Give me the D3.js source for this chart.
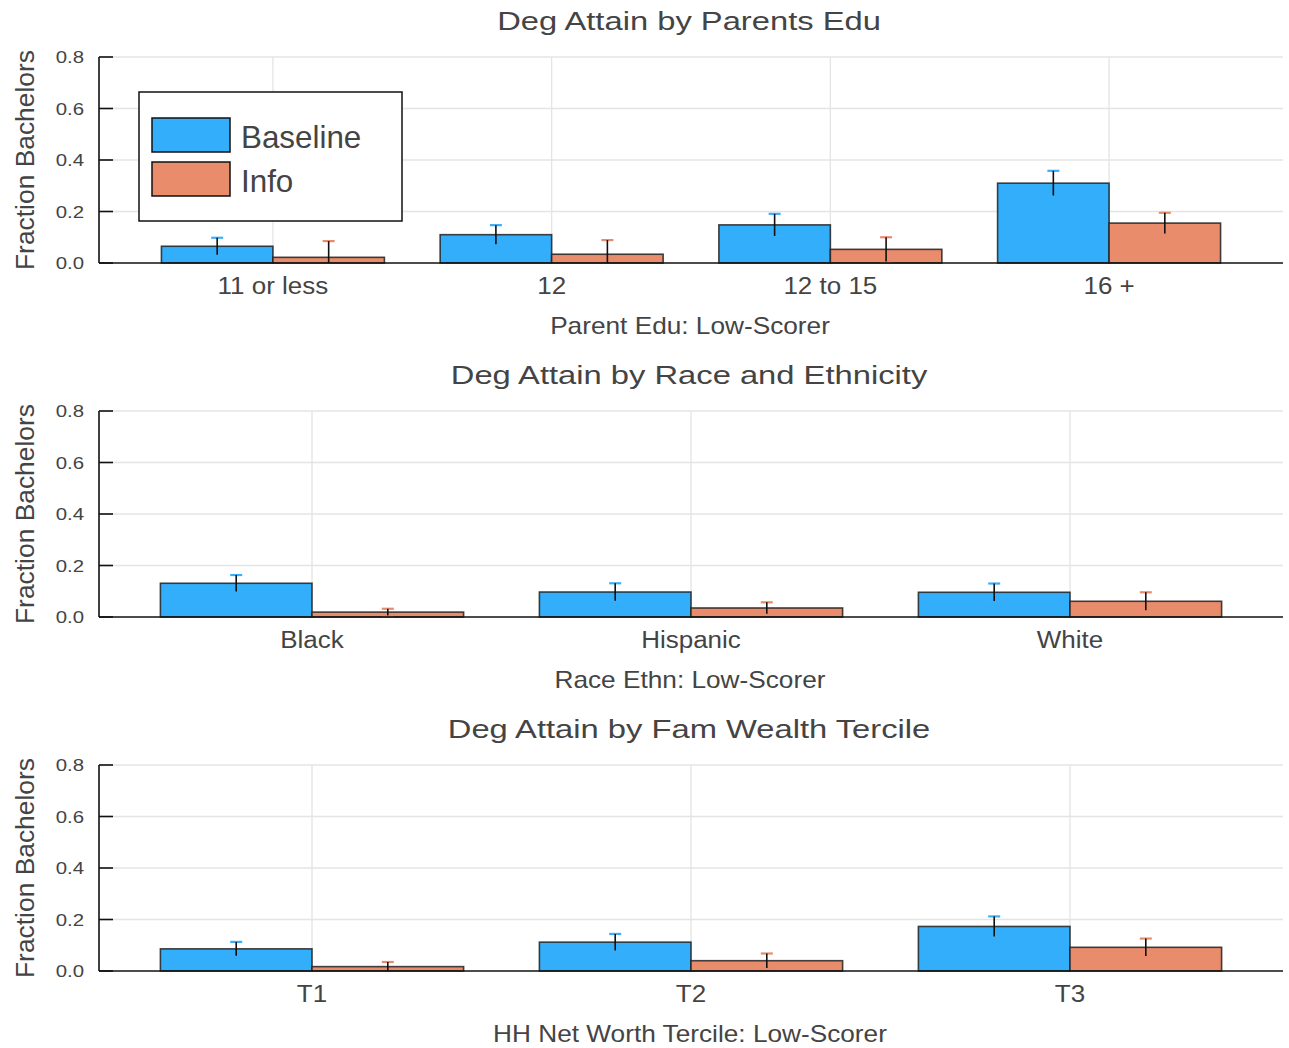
<!DOCTYPE html>
<html>
<head>
<meta charset="utf-8">
<script src="https://cdn.jsdelivr.net/npm/d3@7"></script>
<style>
  html, body { margin: 0; padding: 0; background: #fff; }
  text { font-family: "Liberation Sans", Arial, sans-serif; fill: #444; }
</style>
</head>
<body>
<svg id="chart" width="1289" height="1048"></svg>
<script>
// ---- data ----
const seriesNames = ["Baseline", "Info"];

const parentCats = ["11 or less", "12", "12 to 15", "16 +"];
const parentBaseline = [0.065, 0.110, 0.148, 0.310];
const parentBaselineErr = [0.033, 0.037, 0.043, 0.048];
const parentInfo = [0.022, 0.034, 0.053, 0.155];
const parentInfoErr = [0.063, 0.055, 0.047, 0.040];

const raceCats = ["Black", "Hispanic", "White"];
const raceBaseline = [0.131, 0.097, 0.096];
const raceBaselineErr = [0.032, 0.034, 0.034];
const raceInfo = [0.019, 0.035, 0.061];
const raceInfoErr = [0.013, 0.022, 0.035];

const wealthCats = ["T1", "T2", "T3"];
const wealthBaseline = [0.086, 0.112, 0.173];
const wealthBaselineErr = [0.027, 0.032, 0.039];
const wealthInfo = [0.017, 0.040, 0.092];
const wealthInfoErr = [0.018, 0.028, 0.034];

const yTicks = [0.0, 0.2, 0.4, 0.6, 0.8];

const panels = [
  { title: "Deg Attain by Parents Edu", xlabel: "Parent Edu: Low-Scorer", cats: parentCats,
    vals: [parentBaseline, parentInfo], errs: [parentBaselineErr, parentInfoErr], legend: true },
  { title: "Deg Attain by Race and Ethnicity", xlabel: "Race Ethn: Low-Scorer", cats: raceCats,
    vals: [raceBaseline, raceInfo], errs: [raceBaselineErr, raceInfoErr], legend: false },
  { title: "Deg Attain by Fam Wealth Tercile", xlabel: "HH Net Worth Tercile: Low-Scorer", cats: wealthCats,
    vals: [wealthBaseline, wealthInfo], errs: [wealthBaselineErr, wealthInfoErr], legend: false }
];

// ---- style ----
const fillColors = ["#33aefb", "#e98c6c"];
const capColors = ["#3aaefa", "#ea8a6c"];

const svg = d3.select("#chart");
const left = 99, right = 1283;
const panelTop0 = 57, plotH = 206, panelStep = 354;

function label(g, x, y, str, size, sx, anchor, fill) {
  return g.append("text")
    .attr("transform", `translate(${x},${y}) scale(${sx},1)`)
    .attr("text-anchor", anchor).attr("font-size", size)
    .attr("fill", fill || "#444")
    .text(str);
}

panels.forEach((p, pi) => {
  const top = panelTop0 + pi * panelStep;
  const bottom = top + plotH;
  const g = svg.append("g");
  const n = p.cats.length;

  // continuous x scale like Julia Plots (categories at 1..n)
  const pad = n === 4 ? 0.624 : 0.562;
  const x = d3.scaleLinear().domain([1 - pad, n + pad]).range([left, right]);
  const y = d3.scaleLinear().domain([0, 0.8]).range([bottom, top]);
  const barW = 0.4;

  // grid
  g.selectAll(".hg").data(yTicks.slice(1)).join("line")
    .attr("x1", left).attr("x2", right)
    .attr("y1", d => y(d)).attr("y2", d => y(d))
    .attr("stroke", "#e4e4e4").attr("stroke-width", 1.3);
  g.selectAll(".vg").data(p.cats).join("line")
    .attr("x1", (d, i) => x(i + 1)).attr("x2", (d, i) => x(i + 1))
    .attr("y1", top).attr("y2", bottom)
    .attr("stroke", "#e4e4e4").attr("stroke-width", 1.3);

  // bars
  p.vals.forEach((vals, si) => {
    g.selectAll(".bar" + si).data(vals).join("rect")
      .attr("x", (d, i) => x(i + 1 + (si === 0 ? -barW : 0)))
      .attr("width", x(barW) - x(0))
      .attr("y", d => y(d))
      .attr("height", d => y(0) - y(d))
      .attr("fill", fillColors[si])
      .attr("stroke", "#222").attr("stroke-opacity", 0.85).attr("stroke-width", 1.6);
  });

  // error bars
  p.vals.forEach((vals, si) => {
    const errs = p.errs[si];
    const cx = i => x(i + 1 + (si === 0 ? -barW / 2 : barW / 2));
    vals.forEach((v, i) => {
      const lo = Math.max(0, v - errs[i]);
      const hi = v + errs[i];
      [hi, v - errs[i]].forEach(e => {
        if (e < 0) return;
        g.append("line")
          .attr("x1", cx(i) - 6).attr("x2", cx(i) + 6)
          .attr("y1", y(e)).attr("y2", y(e))
          .attr("stroke", capColors[si]).attr("stroke-width", 2.2);
      });
      g.append("line")
        .attr("x1", cx(i)).attr("x2", cx(i))
        .attr("y1", y(lo)).attr("y2", y(hi))
        .attr("stroke", "#111").attr("stroke-width", 1.6);
    });
  });

  // axes
  g.append("line").attr("x1", left).attr("x2", left).attr("y1", top).attr("y2", bottom)
    .attr("stroke", "#111").attr("stroke-width", 1.6);
  g.append("line").attr("x1", left).attr("x2", right).attr("y1", bottom).attr("y2", bottom)
    .attr("stroke", "#111").attr("stroke-width", 1.6);
  g.selectAll(".yt").data(yTicks).join("line")
    .attr("x1", left).attr("x2", left + 14)
    .attr("y1", d => y(d)).attr("y2", d => y(d))
    .attr("stroke", "#111").attr("stroke-width", 1.6);
  yTicks.forEach(t => label(g, 84, y(t) + 6, d3.format(".1f")(t), 17, 1.2, "end"));

  // x tick labels
  p.cats.forEach((c, i) => label(g, x(i + 1), bottom + 31, c, 23, 1.13, "middle"));

  // x label
  label(g, (left + right) / 2 - 1, bottom + 71, p.xlabel, 23, 1.14, "middle");

  // y label
  g.append("text")
    .attr("transform", `translate(33.5,${(top + bottom) / 2}) rotate(-90)`)
    .attr("text-anchor", "middle").attr("font-size", 26.4)
    .text("Fraction Bachelors");

  // title
  label(g, (left + right) / 2 - 2, top - 27.5, p.title, 26.5, 1.235, "middle", "#3a3a3a");

  // legend
  if (p.legend) {
    const lg = g.append("g");
    lg.append("rect").attr("x", 139).attr("y", 92).attr("width", 263).attr("height", 129)
      .attr("fill", "#fff").attr("stroke", "#111").attr("stroke-width", 1.5);
    seriesNames.forEach((s, si) => {
      const yy = 118 + si * 44;
      lg.append("rect").attr("x", 152).attr("y", yy).attr("width", 78).attr("height", 34)
        .attr("fill", fillColors[si]).attr("stroke", "#111").attr("stroke-width", 1.5);
      label(lg, 241, yy + 30, s, 32, 0.98, "start");
    });
  }
});
</script>
</body>
</html>
